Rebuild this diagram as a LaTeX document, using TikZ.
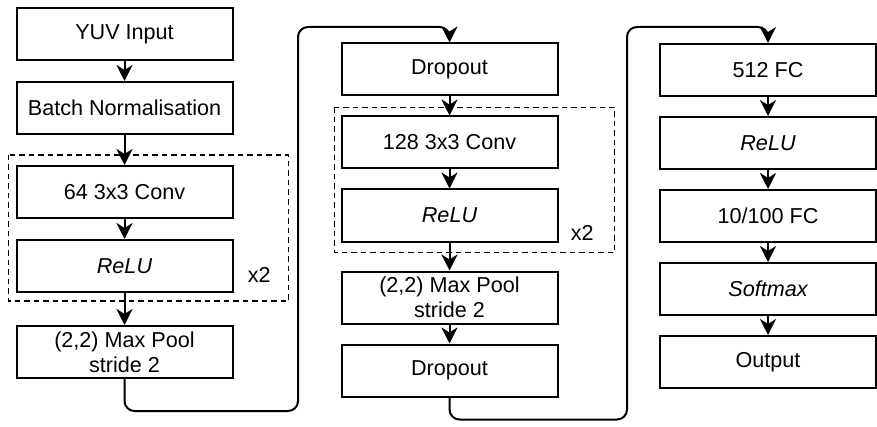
\documentclass[tikz,border=0pt]{standalone}
\usepackage{fontspec}
\setmainfont{Liberation Sans}
\usetikzlibrary{arrows.meta,positioning}

\begin{document}
\begin{tikzpicture}[
x=0.5pt, y=-0.5pt,
node distance=9.5pt,
layer/.style={draw, line width=1pt, align=center, minimum width=108pt, minimum height=26pt, inner sep=0pt, font=\fontsize{10.8}{12.5}\selectfont},
note/.style={inner sep=0pt, anchor=base west, font=\fontsize{10.8}{12.5}\selectfont},
group/.style={draw, dash pattern=on 2.75pt off 2pt, line width=0.8pt},
flow/.style={-{Stealth[length=8pt, width=8pt, inset=2.5pt]}, line width=1pt},
link/.style={flow, rounded corners=5pt}
]
\useasboundingbox (0,0) rectangle (877,427);

% first column
\node[layer] (yuv) at (124.5,34) {YUV Input};
\node[layer, below=10pt of yuv] (bn) {Batch Normalisation};
\node[layer, below=15pt of bn] (conv1) {64 3x3 Conv};
\node[layer, below=10pt of conv1] (relu1) {\itshape ReLU};
\node[layer, below=16pt of relu1] (pool1) {(2,2) Max Pool\\stride 2};
\node[note] (rep1) at ([shift={(14,-11)}]relu1.south east) {x2};
\draw[group] ([shift={(-7,-10)}]conv1.north west) rectangle ([shift={(55,8)}]relu1.south east);

% second column
\node[layer] (drop1) at (449.5,69.5) {Dropout};
\node[layer, below=of drop1] (conv2) {128 3x3 Conv};
\node[layer, below=of conv2] (relu2) {\itshape ReLU};
\node[layer, below=14pt of relu2] (pool2) {(2,2) Max Pool\\stride 2};
\node[layer, below=of pool2] (drop2) {Dropout};
\node[note] (rep2) at ([shift={(12,-2)}]relu2.south east) {x2};
\draw[group] ([shift={(-6,-8)}]conv2.north west) rectangle ([shift={(56,10)}]relu2.south east);

% third column
\node[layer] (fc1) at (768,70) {512 FC};
\node[layer, below=of fc1] (relu3) {\itshape ReLU};
\node[layer, below=of relu3] (fc2) {10/100 FC};
\node[layer, below=of fc2] (soft) {\itshape Softmax};
\node[layer, below=of soft] (out) {Output};

\draw[flow] (yuv) -- (bn);
\draw[flow] (bn) -- (conv1);
\draw[flow] (conv1) -- (relu1);
\draw[flow] (relu1) -- (pool1);
\draw[flow] (drop1) -- (conv2);
\draw[flow] (conv2) -- (relu2);
\draw[flow] (relu2) -- (pool2);
\draw[flow] (pool2) -- (drop2);
\draw[flow] (fc1) -- (relu3);
\draw[flow] (relu3) -- (fc2);
\draw[flow] (fc2) -- (soft);
\draw[flow] (soft) -- (out);

% wrap to next column
\coordinate (up1) at (298,27);
\coordinate (up2) at (627,27);
\draw[link] (pool1.south) -- ++(0,32) -| (up1) -| (drop1.north);
\draw[link] (drop2.south) -- ++(0,22) -| (up2) -| (fc1.north);
\end{tikzpicture}
\end{document}
